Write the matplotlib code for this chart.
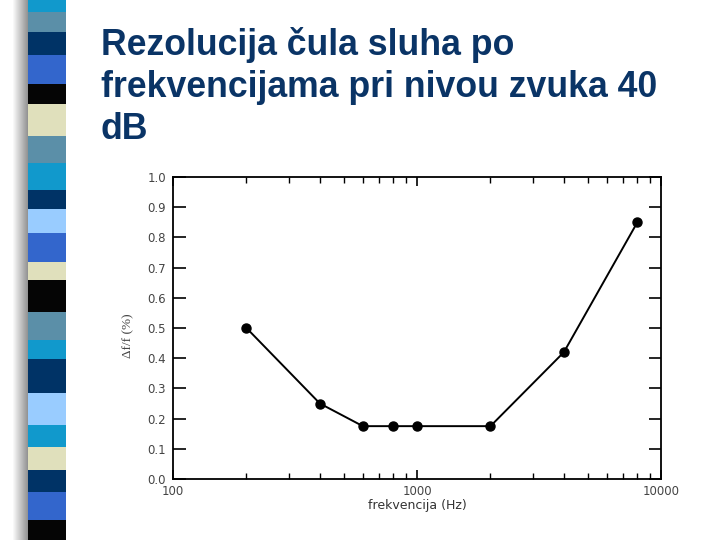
import numpy as np
import matplotlib.pyplot as plt
from matplotlib.patches import Rectangle
from matplotlib.ticker import FixedLocator, LogLocator, NullFormatter

# data
freq = [200, 400, 600, 800, 1000, 2000, 4000, 8000]
df_f = [0.50, 0.25, 0.175, 0.175, 0.175, 0.175, 0.42, 0.85]
yticks = [0.0, 0.1, 0.2, 0.3, 0.4, 0.5, 0.6, 0.7, 0.8, 0.9, 1.0]
xticks = [100, 1000, 10000]

title = "Rezolucija čula sluha po\nfrekvencijama pri nivou zvuka 40\ndB"

# decorative stripe on the left of the slide (top->bottom, pixel heights)
stripe_colors = ["#1199cc", "#5b8fa8", "#003366", "#3366cc", "#050505", "#e0e0bc",
                 "#5b8fa8", "#1199cc", "#003366", "#99ccff", "#3366cc", "#e0e0bc",
                 "#050505", "#5b8fa8", "#1199cc", "#003366", "#99ccff", "#1199cc",
                 "#e0e0bc", "#003366", "#3366cc", "#050505"]
stripe_heights = [12, 20, 23, 29, 20, 32, 27, 27, 19, 24, 29, 18,
                  32, 28, 19, 34, 32, 22, 23, 22, 28, 20]

W, H = 720, 540
fig = plt.figure(figsize=(7.2, 5.4), dpi=100)

# shadow + stripe
for i in range(16):
    g = 1.0 - 0.42 * (i / 15)
    fig.add_artist(Rectangle((12 / W + i * 1.0 / W, 0), 1.0 / W, 1,
                             transform=fig.transFigure, color=(g, g, g), lw=0))
top = H
for c, h in zip(stripe_colors, stripe_heights):
    fig.add_artist(Rectangle((28 / W, (top - h) / H), 38 / W, h / H,
                             transform=fig.transFigure, color=c, lw=0))
    top -= h

fig.text(101 / W, 1 - 27 / H, title, ha="left", va="top", fontsize=25.7,
         fontweight="bold", color="#0a3466", family="Liberation Sans",
         linespacing=1.26)

ax = fig.add_axes([173 / W, 61 / H, 488 / W, 302 / H])
ax.plot(freq, df_f, color="black", lw=1.4, marker="o", ms=6.5)
ax.set_xscale("log")
ax.set_xlim(100, 10000)
ax.set_ylim(0, 1.0)
ax.set_yticks(yticks)
ax.set_yticklabels([f"{v:.1f}" for v in yticks])
ax.xaxis.set_major_locator(FixedLocator(xticks))
ax.set_xticklabels([str(v) for v in xticks])
ax.xaxis.set_minor_locator(LogLocator(base=10, subs=np.arange(2, 10)))
ax.xaxis.set_minor_formatter(NullFormatter())

ax.tick_params(axis="y", which="major", direction="in", length=9, width=1.2,
               left=True, right=True, labelsize=8.5, labelcolor="#444444", pad=5)
ax.tick_params(axis="x", which="major", direction="in", length=6.5, width=1.2,
               bottom=True, top=True, labelsize=8.5, labelcolor="#444444", pad=4)
ax.tick_params(axis="x", which="minor", direction="in", length=4, width=1.0,
               bottom=True, top=True)
for sp in ax.spines.values():
    sp.set_linewidth(1.3)

for lab in ax.get_xticklabels() + ax.get_yticklabels():
    lab.set_family("DejaVu Sans")

ax.set_xlabel("frekvencija (Hz)", fontsize=9, color="#333333",
              family="DejaVu Sans")
ax.xaxis.set_label_coords(0.5, -0.065)
ax.set_ylabel("Δf/f (%)", fontsize=9.5, color="#444444", family="Liberation Serif")
ax.yaxis.set_label_coords(-0.08, 0.473)

fig.savefig("out.png", dpi=100)
